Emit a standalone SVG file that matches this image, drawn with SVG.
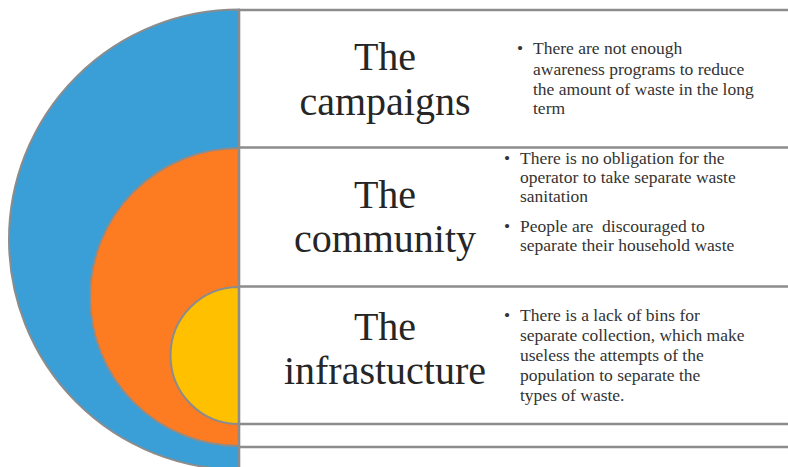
<svg xmlns="http://www.w3.org/2000/svg" width="788" height="467" viewBox="0 0 788 467">
  <style>
    .arc { stroke: #8c8c8c; stroke-width: 2; }
    .sep { stroke: #8c8c8c; stroke-width: 2.6; fill: none; }
    .title { font-family: "Liberation Serif", "Times New Roman", serif; font-size: 40px; fill: #262626; text-anchor: middle; }
    .body { font-family: "Liberation Serif", "Times New Roman", serif; font-size: 17.5px; fill: #333333; }
  </style>
  <rect width="788" height="467" fill="#ffffff"/>

  <g id="circles">
    <path id="blue" class="arc" fill="#3a9fd7" d="M239,9.5 A230,230 0 0 0 239,469.5 Z"/>
    <path id="orange" class="arc" fill="#fd7b21" d="M239,148 A149,149 0 0 0 239,446 Z"/>
    <path id="yellow" class="arc" fill="#ffc000" d="M239,287 A68.5,68.5 0 0 0 239,424 Z"/>
  </g>

  <g id="connectors">
    <line class="sep" x1="239" y1="9" x2="239" y2="467"/>
    <line class="sep" x1="239" y1="10" x2="788" y2="10"/>
    <line class="sep" x1="239" y1="147.5" x2="788" y2="147.5"/>
    <line class="sep" x1="239" y1="286.5" x2="788" y2="286.5"/>
    <line class="sep" x1="239" y1="424" x2="788" y2="424"/>
    <line class="sep" x1="239" y1="447" x2="788" y2="447"/>
  </g>

  <g id="row-campaigns">
    <text class="title" x="385" y="70">The</text>
    <text class="title" x="385" y="115">campaigns</text>
    <text class="body"><tspan x="517" y="54">•</tspan><tspan x="533" y="54">There are not enough</tspan><tspan x="533" y="74.5">awareness programs to reduce</tspan><tspan x="533" y="94.5">the amount of waste in the long</tspan><tspan x="533" y="114">term</tspan></text>
  </g>

  <g id="row-community">
    <text class="title" x="385" y="208">The</text>
    <text class="title" x="385" y="252">community</text>
    <text class="body" xml:space="preserve"><tspan x="504" y="164">•</tspan><tspan x="520" y="164">There is no obligation for the</tspan><tspan x="520" y="183">operator to take separate waste</tspan><tspan x="520" y="202">sanitation</tspan><tspan x="504" y="232">•</tspan><tspan x="520" y="232">People are  discouraged to</tspan><tspan x="520" y="251">separate their household waste</tspan></text>
  </g>

  <g id="row-infrastucture">
    <text class="title" x="385" y="340">The</text>
    <text class="title" x="385" y="384">infrastucture</text>
    <text class="body"><tspan x="504" y="321">•</tspan><tspan x="520" y="321">There is a lack of bins for</tspan><tspan x="520" y="341">separate collection, which make</tspan><tspan x="520" y="361">useless the attempts of the</tspan><tspan x="520" y="381">population to separate the</tspan><tspan x="520" y="401">types of waste.</tspan></text>
  </g>
</svg>
